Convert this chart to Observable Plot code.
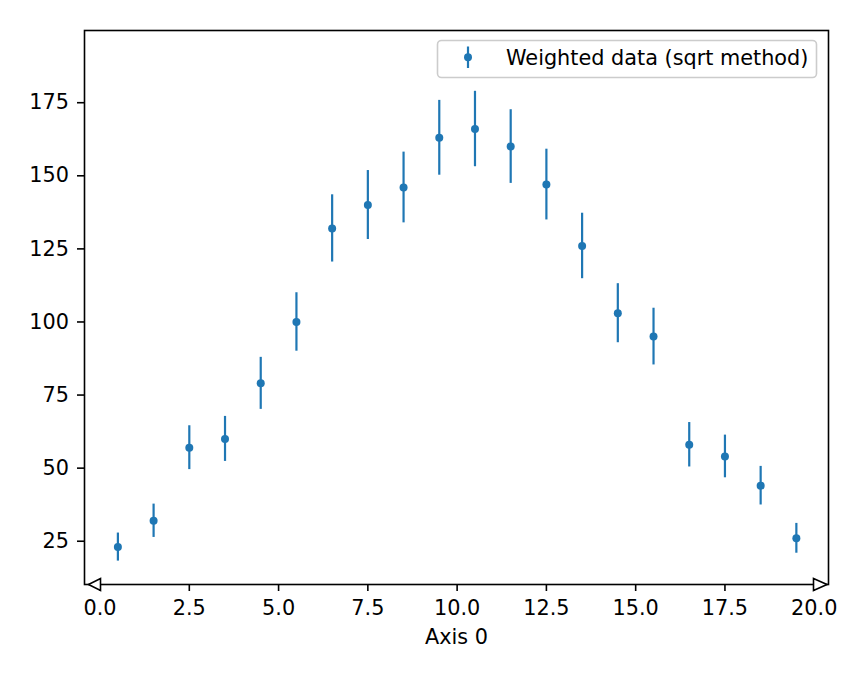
<!DOCTYPE html>
<html><head><meta charset="utf-8">
<script src="https://cdn.jsdelivr.net/npm/d3@7"></script>
<script src="https://cdn.jsdelivr.net/npm/@observablehq/plot@0.6"></script>
<style>
body{margin:0;background:#fff}
#chart{width:864px;height:679px}
</style>
</head><body><div id="chart"></div>
<script>
const binCenters = [0.5,1.5,2.5,3.5,4.5,5.5,6.5,7.5,8.5,9.5,10.5,11.5,12.5,13.5,14.5,15.5,16.5,17.5,18.5,19.5];
const counts = [23,32,57,60,79,100,132,140,146,163,166,160,147,126,103,95,58,54,44,26];
const errors = [4.8,5.7,7.5,7.7,8.9,10.0,11.5,11.8,12.1,12.8,12.9,12.6,12.1,11.2,10.1,9.7,7.6,7.3,6.6,5.1];
const xTicks = [0,2.5,5,7.5,10,12.5,15,17.5,20];
const yTicks = [25,50,75,100,125,150,175];
const xDomain = [-0.435, 20.4];
const yDomain = [10.2, 199.7];
const legendLabel = "Weighted data (sqrt method)";
const xLabel = "Axis 0";

const blue = "#1f77b4";
const data = binCenters.map((x, i) => ({x, y: counts[i], lo: counts[i] - errors[i], hi: counts[i] + errors[i]}));
const corner = [{x: xDomain[0], y: yDomain[0]}];
const cornerR = [{x: xDomain[1], y: yDomain[0]}];
const leftArrow = {draw(ctx){ctx.moveTo(4,0);ctx.lineTo(16,-6);ctx.lineTo(16,6);ctx.closePath();}};
const rightArrow = {draw(ctx){ctx.moveTo(-1.5,0);ctx.lineTo(-15,-6);ctx.lineTo(-15,6);ctx.closePath();}};

const plot = Plot.plot({
  width: 864, height: 679,
  marginLeft: 84, marginRight: 36, marginTop: 30, marginBottom: 95,
  style: {fontFamily: "DejaVu Sans", fontSize: "20.8px", color: "black", background: "white"},
  x: {domain: xDomain},
  y: {domain: yDomain},
  marks: [
    Plot.ruleX(data, {x: "x", y1: "lo", y2: "hi", stroke: blue, strokeWidth: 2.2}),
    Plot.dot(data, {x: "x", y: "y", r: 4, fill: blue}),
    Plot.frame({stroke: "black", strokeWidth: 1.6}),
    Plot.axisX({ticks: xTicks, tickFormat: d3.format(".1f"), tickSize: 7, tickPadding: 8.5, strokeWidth: 1.6,
      label: xLabel, labelAnchor: "center", labelOffset: 59, labelArrow: "none"}),
    Plot.axisY({ticks: yTicks, tickSize: 7, tickPadding: 8.5, strokeWidth: 1.6, label: null}),
    Plot.dot(corner, {x: "x", y: "y", r: 1, symbol: leftArrow, fill: "white", stroke: "black", strokeWidth: 1.6}),
    Plot.dot(cornerR, {x: "x", y: "y", r: 1, symbol: rightArrow, fill: "white", stroke: "black", strokeWidth: 1.6})
  ]
});

const svg = d3.select(plot);
const g = svg.append("g").attr("font-family", "DejaVu Sans").attr("font-size", 20.8).attr("text-anchor", "start");
g.append("rect").attr("x", 437.5).attr("y", 40.5).attr("width", 379).attr("height", 37).attr("rx", 4)
  .attr("fill", "white").attr("fill-opacity", 0.8).attr("stroke", "#cccccc").attr("stroke-width", 1.6);
g.append("line").attr("x1", 468).attr("x2", 468).attr("y1", 46.5).attr("y2", 68).attr("stroke", blue).attr("stroke-width", 2.2);
g.append("circle").attr("cx", 468).attr("cy", 57.3).attr("r", 4).attr("fill", blue);
g.append("text").attr("x", 506).attr("y", 64.5).attr("fill", "black").attr("text-anchor", "start").text(legendLabel);

document.getElementById("chart").append(plot);
</script>
</body></html>
